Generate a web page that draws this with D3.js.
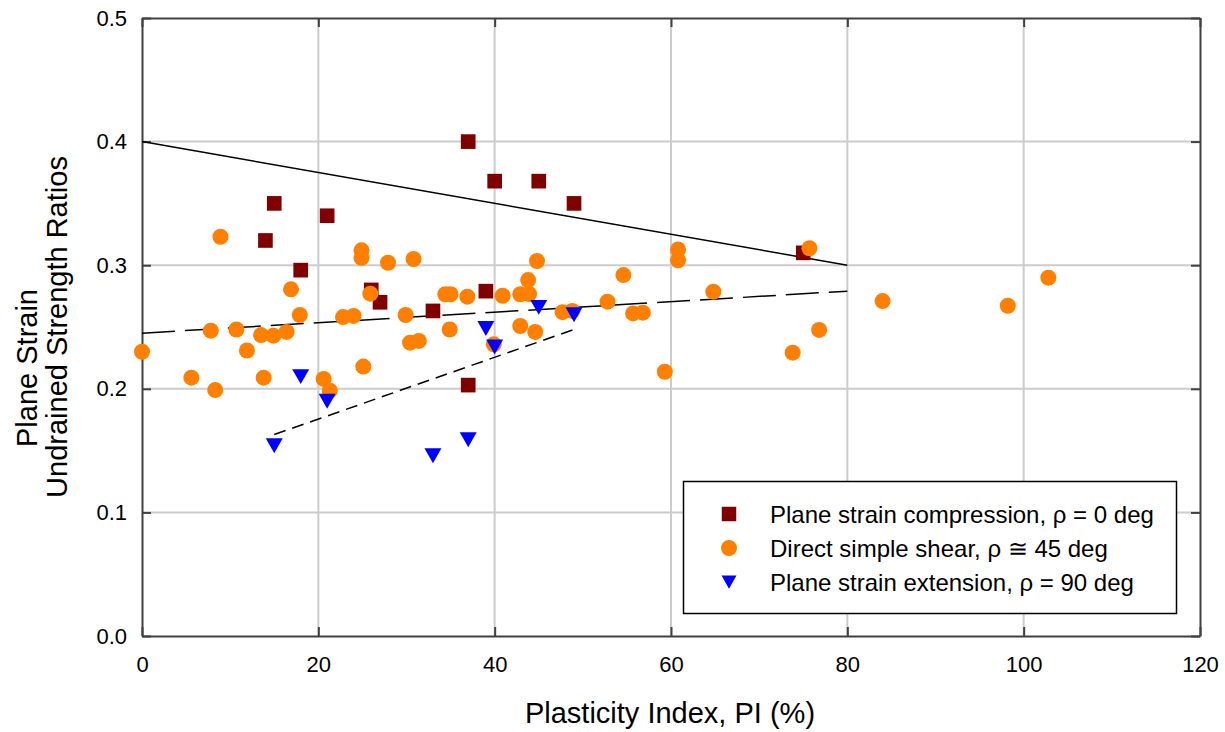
<!DOCTYPE html>
<html><head><meta charset="utf-8">
<script src="https://cdn.jsdelivr.net/npm/d3@7/dist/d3.min.js"></script>
<style>body{margin:0;background:#fff} text{font-family:"Liberation Sans",Arial,sans-serif;fill:#000}</style>
</head><body><svg id="c" width="1225" height="732"></svg>
<script>
const xTicks=[0,20,40,60,80,100,120];
const yTicks=[0,0.1,0.2,0.3,0.4,0.5];
const yTickLabels=["0.0","0.1","0.2","0.3","0.4","0.5"];

const compPI=[14,15,18,21,26,27,33,37,37,39,40,45,49,75];
const compRatio=[0.320,0.350,0.296,0.340,0.280,0.270,0.263,0.400,0.203,0.279,0.368,0.368,0.350,0.310];

const dssPI=[0,5.6,7.8,8.3,8.9,10.7,11.9,13.5,13.8,14.9,16.4,16.9,17.9,20.6,21.3,22.8,24.0,24.9,24.9,25.1,25.9,27.9,29.9,30.4,30.8,31.4,34.4,34.9,35.0,36.9,39.9,40.9,42.9,42.9,43.8,43.9,44.6,44.8,47.7,48.8,52.8,54.6,55.7,56.8,59.3,60.8,60.8,64.8,73.8,75.7,76.8,84.0,98.2,102.8];
const dssRatio=[0.230,0.209,0.247,0.199,0.323,0.248,0.231,0.2435,0.209,0.243,0.246,0.2805,0.2597,0.208,0.1985,0.258,0.259,0.312,0.306,0.218,0.277,0.302,0.2597,0.2373,0.305,0.2387,0.2765,0.248,0.2765,0.2745,0.236,0.2753,0.2508,0.2765,0.288,0.2767,0.246,0.3034,0.262,0.263,0.2705,0.292,0.261,0.2616,0.2138,0.3128,0.304,0.2786,0.2292,0.3137,0.2476,0.271,0.2672,0.2899];

const extPI=[15,18,21,33,37,39,40,45,49];
const extRatio=[0.154,0.210,0.190,0.146,0.159,0.249,0.234,0.266,0.260];

const compLinePI=[0,80], compLineRatio=[0.400,0.300];
const dssLinePI=[0,80], dssLineRatio=[0.245,0.279];
const extLinePI=[15,49], extLineRatio=[0.163,0.248];

const legendLabels=["Plane strain compression, \u03c1 = 0 deg","Direct simple shear, \u03c1 \u2245 45 deg","Plane strain extension, \u03c1 = 90 deg"];

const svg=d3.select("#c");
const x=d3.scaleLinear().domain([0,120]).range([142,1200]);
const y=d3.scaleLinear().domain([0,0.5]).range([636,18]);
const colors={comp:"#800000",dss:"#ff8000",ext:"#0000ff"};
const FONT='"Liberation Sans",Arial,sans-serif';

// grid
const g=svg.append("g");
g.selectAll(".vg").data(xTicks.slice(1,-1)).join("line")
 .attr("x1",d=>x(d)).attr("x2",d=>x(d)).attr("y1",y(0)).attr("y2",y(0.5))
 .attr("stroke","#cccccc").attr("stroke-width",2);
g.selectAll(".hg").data(yTicks.slice(1,-1)).join("line")
 .attr("y1",d=>y(d)).attr("y2",d=>y(d)).attr("x1",x(0)).attr("x2",x(120))
 .attr("stroke","#cccccc").attr("stroke-width",2);

// axes
function styleAxis(sel){sel.attr("font-size",null).attr("font-family",null);
 sel.select(".domain").attr("stroke","#404040").attr("stroke-width",2);
 sel.selectAll(".tick line").attr("stroke","#404040").attr("stroke-width",2);
 sel.selectAll("text").attr("fill","#000").style("font-size","22px").style("font-family",FONT);}
const ax=svg.append("g").attr("transform",`translate(0,${y(0)})`)
 .call(d3.axisBottom(x).tickValues(xTicks).tickSizeInner(-9).tickSizeOuter(0).tickPadding(20).tickFormat(d3.format("d")));
styleAxis(ax);
const ay=svg.append("g").attr("transform",`translate(${x(0)},0)`)
 .call(d3.axisLeft(y).tickValues(yTicks).tickSizeInner(-9).tickSizeOuter(0).tickPadding(15).tickFormat((d,i)=>yTickLabels[i]));
styleAxis(ay);
const at=svg.append("g").attr("transform",`translate(0,${y(0.5)})`)
 .call(d3.axisTop(x).tickValues(xTicks).tickSizeInner(-9).tickSizeOuter(0).tickFormat(""));
styleAxis(at);
const ar=svg.append("g").attr("transform",`translate(${x(120)},0)`)
 .call(d3.axisRight(y).tickValues(yTicks).tickSizeInner(-9).tickSizeOuter(0).tickFormat(""));
styleAxis(ar);

// titles
svg.append("text").attr("x",670).attr("y",723).attr("text-anchor","middle").style("font-size","29px").text("Plasticity Index, PI (%)");
svg.append("text").attr("transform","translate(37,368) rotate(-90)").attr("text-anchor","middle").style("font-size","29px").text("Plane Strain");
svg.append("text").attr("transform","translate(67,327) rotate(-90)").attr("text-anchor","middle").style("font-size","29px").text("Undrained Strength Ratios");

// trend lines
const line=d3.line().x(d=>x(d[0])).y(d=>y(d[1]));
svg.append("path").datum(d3.zip(compLinePI,compLineRatio)).attr("d",line).attr("fill","none").attr("stroke","#000").attr("stroke-width",1.5);
svg.append("path").datum(d3.zip(dssLinePI,dssLineRatio)).attr("d",line).attr("fill","none").attr("stroke","#000").attr("stroke-width",1.5).attr("stroke-dasharray","33,10");
svg.append("path").datum(d3.zip(extLinePI,extLineRatio)).attr("d",line).attr("fill","none").attr("stroke","#000").attr("stroke-width",1.5).attr("stroke-dasharray","12,7");

// markers
const sqSym=d3.symbol().type(d3.symbolSquare).size(215);
const triPath=(s)=>`M${-s/2},${-s*0.43}L${s/2},${-s*0.43}L0,${s*0.45}Z`;
svg.append("g").selectAll("path").data(d3.zip(compPI,compRatio)).join("path")
 .attr("transform",d=>`translate(${x(d[0])},${y(d[1])})`).attr("d",sqSym).attr("fill",colors.comp);
svg.append("g").selectAll("circle").data(d3.zip(dssPI,dssRatio)).join("circle")
 .attr("cx",d=>x(d[0])).attr("cy",d=>y(d[1])).attr("r",8).attr("fill",colors.dss);
svg.append("g").selectAll("path").data(d3.zip(extPI,extRatio)).join("path")
 .attr("transform",d=>`translate(${x(d[0])},${y(d[1])})`).attr("d",triPath(17)).attr("fill",colors.ext);

// legend
const lg=svg.append("g");
lg.append("rect").attr("x",683.5).attr("y",481.5).attr("width",493).attr("height",132).attr("fill","#fff").attr("stroke","#000").attr("stroke-width",1.5);
const ly=[514,548,582];
lg.append("path").attr("transform",`translate(729,${ly[0]})`).attr("d",d3.symbol().type(d3.symbolSquare).size(210)).attr("fill",colors.comp);
lg.append("circle").attr("cx",729).attr("cy",ly[1]).attr("r",8).attr("fill",colors.dss);
lg.append("path").attr("transform",`translate(729,${ly[2]})`).attr("d",triPath(15)).attr("fill",colors.ext);
lg.selectAll("text").data(legendLabels).join("text").attr("x",770).attr("y",(d,i)=>ly[i]+9).style("font-size","24px").text(d=>d);
</script></body></html>
